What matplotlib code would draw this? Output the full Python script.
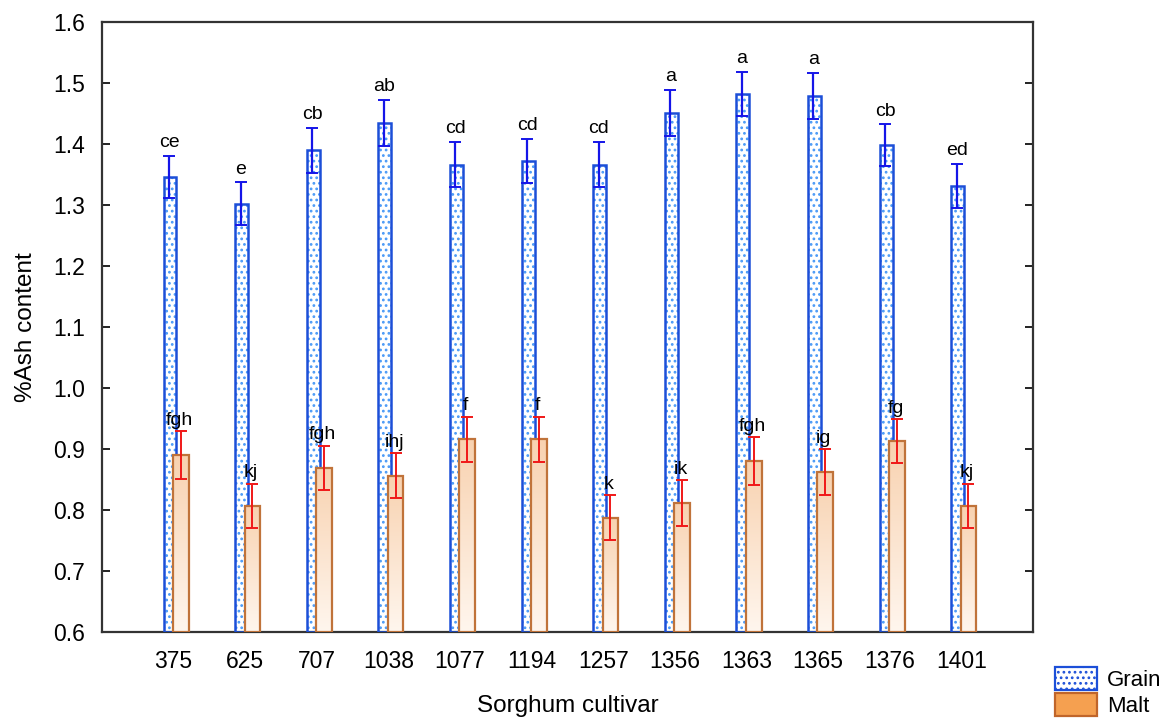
import matplotlib
matplotlib.use("Agg")
import matplotlib.pyplot as plt
import matplotlib.patches as mpatches
import numpy as np

plt.rcParams['font.family'] = ['Liberation Sans', 'DejaVu Sans']
plt.rcParams['hatch.linewidth'] = 1.2

cultivars = ['375', '625', '707', '1038', '1077', '1194', '1257', '1356', '1363', '1365', '1376', '1401']
grain = [1.346, 1.302, 1.390, 1.434, 1.366, 1.372, 1.366, 1.451, 1.482, 1.479, 1.398, 1.331]
grain_err = [0.035, 0.035, 0.037, 0.038, 0.037, 0.036, 0.037, 0.038, 0.036, 0.038, 0.034, 0.036]
malt = [0.890, 0.807, 0.869, 0.856, 0.916, 0.916, 0.787, 0.811, 0.880, 0.862, 0.913, 0.807]
malt_err = [0.039, 0.036, 0.036, 0.037, 0.037, 0.037, 0.037, 0.038, 0.039, 0.038, 0.036, 0.036]
grain_letters = ['ce', 'e', 'cb', 'ab', 'cd', 'cd', 'cd', 'a', 'a', 'a', 'cb', 'ed']
malt_letters = ['fgh', 'kj', 'fgh', 'ihj', 'f', 'f', 'k', 'ik', 'fgh', 'ig', 'fg', 'kj']

x = np.arange(len(cultivars))

fig = plt.figure(figsize=(11.71, 7.26), dpi=100)
ax = fig.add_axes([0.0871, 0.1295, 0.795, 0.8402])

# grain bars: dotted hatch + dark blue outline
gx = x - 0.05
ax.bar(gx, np.array(grain) - 0.6, bottom=0.6, width=0.18, color='white',
       edgecolor='#4a9af7', hatch='...', linewidth=0, zorder=2)
ax.bar(gx, np.array(grain) - 0.6, bottom=0.6, width=0.18, fill=False,
       edgecolor='#1c4fd8', linewidth=1.8, zorder=3)
ax.errorbar(x - 0.065, grain, yerr=grain_err, fmt='none', ecolor='#1515e8',
            elinewidth=1.6, capsize=4, capthick=1.4, zorder=5)

# malt bars: orange gradient fill
mx = x + 0.1
mbars = ax.bar(mx, np.array(malt) - 0.6, bottom=0.6, width=0.22, facecolor='none',
               edgecolor='#c0733a', linewidth=1.6, zorder=4)
grad = np.linspace(1, 0, 256).reshape(-1, 1)
cmap = matplotlib.colors.LinearSegmentedColormap.from_list('m', ['#fff6ee', '#f8d2b0'])
for b in mbars:
    x0, y0 = b.get_x(), b.get_y()
    w, h = b.get_width(), b.get_height()
    im = ax.imshow(grad, extent=[x0, x0 + w, y0, y0 + h], aspect='auto',
                   cmap=cmap, origin='upper', zorder=3.5)
    im.set_clip_path(b)
ax.errorbar(mx, malt, yerr=malt_err, fmt='none', ecolor='#f01818',
            elinewidth=1.4, capsize=4, capthick=1.4, zorder=5)

for i in range(len(x)):
    ax.text(x[i] - 0.065, grain[i] + grain_err[i] + 0.008, grain_letters[i],
            ha='center', va='bottom', fontsize=14, zorder=6)
    ax.text(mx[i] - 0.02, malt[i] + malt_err[i] + 0.004, malt_letters[i],
            ha='center', va='bottom', fontsize=14, zorder=6)

ax.set_xlim(-1, 12)
ax.set_ylim(0.6, 1.6)
ax.set_yticks(np.arange(0.6, 1.61, 0.1))
ax.set_yticklabels(['%.1f' % v for v in np.arange(0.6, 1.61, 0.1)])
ax.set_xticks(x)
ax.set_xticklabels(cultivars)
ax.tick_params(axis='both', direction='in', labelsize=16.5, width=1.4, length=6,
               right=True, colors='#222222', labelcolor='black', pad=12)
ax.tick_params(axis='x', length=5, pad=13)
for s in ax.spines.values():
    s.set_linewidth(1.6)
    s.set_color('#333333')

ax.set_xlabel('Sorghum cultivar', fontsize=17.5, labelpad=16)
ax.set_ylabel('%Ash content', fontsize=17.5, labelpad=12)

h1 = mpatches.Patch(facecolor='white', edgecolor='#1c4fd8', hatch='...', linewidth=1.6)
h2 = mpatches.Patch(facecolor='#f5a050', edgecolor='#c0652a', linewidth=1.6)
fig.legend([h1, h2], ['Grain', 'Malt'], loc='lower left',
           bbox_to_anchor=(1055 / 1171, 0.012), frameon=False, fontsize=16,
           borderaxespad=0, borderpad=0,
           handlelength=1.9, handleheight=1.2, handletextpad=0.45, labelspacing=0.1)

fig.savefig('out.png', dpi=100)
